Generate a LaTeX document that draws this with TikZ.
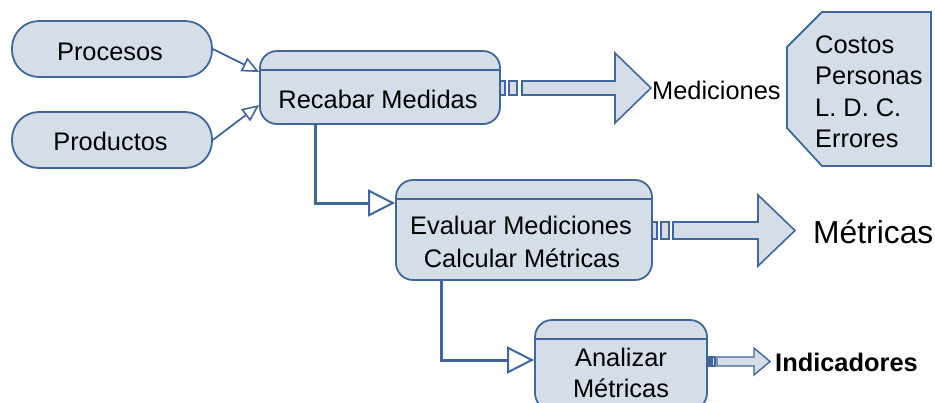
\documentclass[tikz,border=0pt]{standalone}
\usepackage{fontspec}
\setmainfont{Liberation Sans}
\usetikzlibrary{arrows.meta}
\definecolor{boxfill}{HTML}{D5DDE8}
\definecolor{boxline}{HTML}{41679A}
\begin{document}
\begin{tikzpicture}[x=1pt,y=-1pt,
  pill/.style={draw=boxline, fill=boxfill, line width=1.8pt, rounded corners=27pt, inner sep=0pt},
  procbox/.style={draw=boxline, fill=boxfill, line width=1.8pt, rounded corners=17pt, inner sep=0pt},
  divider/.style={draw=boxline, line width=1.8pt},
  lbl/.style={font=\fontsize{25.4}{31}\selectfont, anchor=base, inner sep=0pt},
  lblw/.style={lbl, anchor=base west},
  blockarrow/.style={draw=boxline, fill=boxfill, line width=1.6pt, line join=miter},
  stub/.style={draw=boxline, fill=boxfill, line width=1.4pt},
  feed/.style={draw=boxline, line width=1.8pt, -{Triangle[open, length=17pt, width=15pt, line width=1.6pt]}},
  flow/.style={draw=boxline, line width=3pt, -{Triangle[open, length=27pt, width=27pt, line width=2pt]}}
]
\useasboundingbox (0,0) rectangle (935,402);
\clip (0,0) rectangle (935,402);
\fill[white] (0,0) rectangle (935,402);

% input pills
\node[pill, minimum width=200pt, minimum height=56pt] (proc) at (112,49) {};
\node[lbl] (proct) at (110,60) {Procesos};
\node[pill, minimum width=200pt, minimum height=56pt] (prod) at (112,140) {};
\node[lbl] (prodt) at (110.5,150) {Productos};

% process boxes
\node[procbox, minimum width=240pt, minimum height=73pt] (rec) at (380,87.5) {};
\draw[divider] ([yshift=-20pt]rec.north west) -- ([yshift=-20pt]rec.north east);
\node[lbl] (rect) at (378,108) {Recabar Medidas};

\node[procbox, minimum width=256pt, minimum height=100pt] (eval) at (524,230) {};
\draw[divider] ([yshift=-20pt]eval.north west) -- ([yshift=-20pt]eval.north east);
\node[lbl] (evalt1) at (521,234) {Evaluar Mediciones};
\node[lbl] (evalt2) at (522,267) {Calcular Métricas};

\node[procbox, minimum width=172pt, minimum height=90pt] (ana) at (621,365) {};
\draw[divider] ([yshift=-20pt]ana.north west) -- ([yshift=-20pt]ana.north east);
\node[lbl] (anat1) at (621,366) {Analizar};
\node[lbl] (anat2) at (621,397) {Métricas};

% feeding connectors
\draw[feed] (proc.east) -- ([yshift=15.5pt]rec.west);
\draw[feed] (prod.east) -- ([yshift=-17.5pt]rec.west);

% flow connectors
\draw[flow] ([xshift=56pt]rec.south west) |- ([yshift=27pt]eval.west);
\draw[flow] ([xshift=46pt]eval.south west) |- ([yshift=5pt]ana.west);

% block arrow: Recabar -> Mediciones
\draw[stub] (500,81) rectangle (505,95);
\draw[stub] (509,81) rectangle (517,95);
\draw[blockarrow] (522,81) -- (615,81) -- (615,53) -- (651,88) -- (615,123) -- (615,95) -- (522,95) -- cycle;
\node[lblw] (med) at (652,99) {Mediciones};

% measured items box
\coordinate (c1) at (787,47);
\coordinate (c2) at (822,12);
\coordinate (c3) at (931,12);
\coordinate (c4) at (931,166);
\coordinate (c5) at (822,166);
\coordinate (c6) at (787,128);
\draw[draw=boxline, fill=boxfill, line width=1.8pt] (c1) -- (c2) -- (c3) -- (c4) -- (c5) -- (c6) -- cycle;
\node[lblw] (cost) at (815,53) {Costos};
\node[lblw] (pers) at (815,84) {Personas};
\node[lblw] (ldc) at (815,116) {L. D. C.};
\node[lblw] (err) at (815,147) {Errores};

% block arrow: Evaluar -> Metricas
\draw[stub] (652,222) rectangle (657,239);
\draw[stub] (661,222) rectangle (669,239);
\draw[blockarrow] (673,222) -- (758,222) -- (758,195) -- (795,230.5) -- (758,266) -- (758,239) -- (673,239) -- cycle;
\node[lblw, font=\fontsize{31.8}{36}\selectfont] (met) at (813,243) {Métricas};

% block arrow: Analizar -> Indicadores
\draw[stub, fill=boxline] (707,357) rectangle (711,366);
\draw[stub] (712,357) rectangle (715,366);
\draw[blockarrow, line width=1.4pt] (717,357) -- (754,357) -- (754,348) -- (770,361.5) -- (754,375) -- (754,366) -- (717,366) -- cycle;
\node[lblw, font=\fontsize{25.4}{31}\selectfont\bfseries] (ind) at (775,371) {Indicadores};
\end{tikzpicture}
\end{document}
